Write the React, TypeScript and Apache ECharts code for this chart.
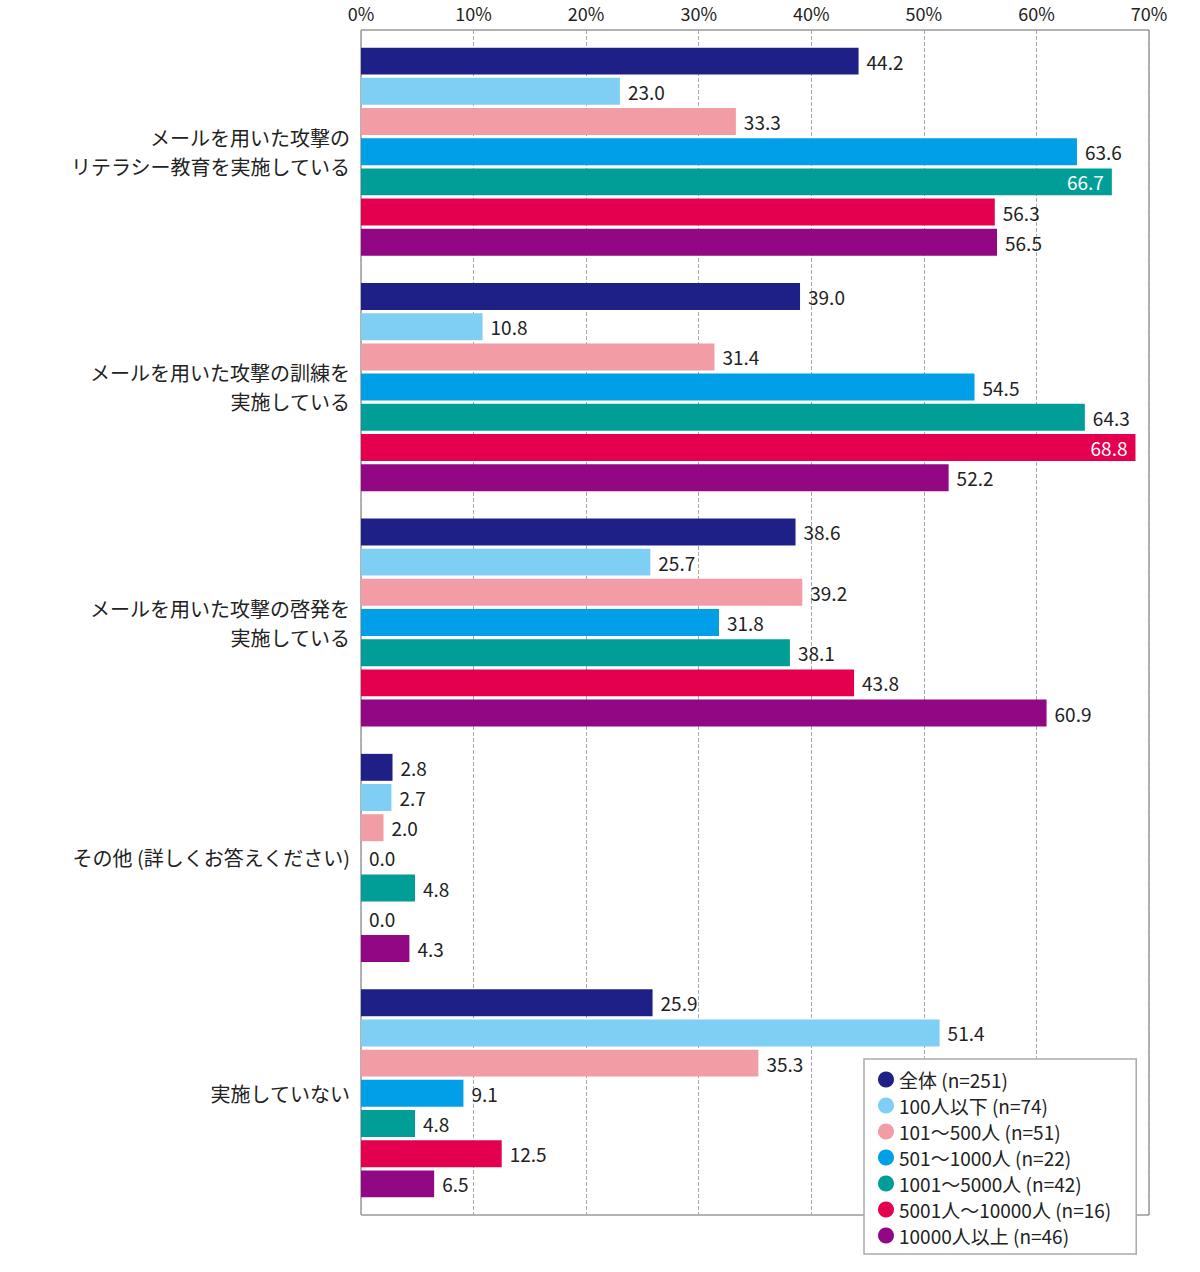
import React, { useEffect, useRef } from "react";
import * as echarts from "echarts";

const categories = [
  "メールを用いた攻撃の\nリテラシー教育を実施している",
  "メールを用いた攻撃の訓練を\n実施している",
  "メールを用いた攻撃の啓発を\n実施している",
  "その他 (詳しくお答えください)",
  "実施していない",
];

const seriesNames = [
  "全体 (n=251)",
  "100人以下 (n=74)",
  "101～500人 (n=51)",
  "501～1000人 (n=22)",
  "1001～5000人 (n=42)",
  "5001人～10000人 (n=16)",
  "10000人以上 (n=46)",
];

const allValues = [44.2, 39.0, 38.6, 2.8, 25.9];
const under100Values = [23.0, 10.8, 25.7, 2.7, 51.4];
const s101to500Values = [33.3, 31.4, 39.2, 2.0, 35.3];
const s501to1000Values = [63.6, 54.5, 31.8, 0.0, 9.1];
const s1001to5000Values = [66.7, 64.3, 38.1, 4.8, 4.8];
const s5001to10000Values = [56.3, 68.8, 43.8, 0.0, 12.5];
const over10000Values = [56.5, 52.2, 60.9, 4.3, 6.5];

const seriesValues = [
  allValues,
  under100Values,
  s101to500Values,
  s501to1000Values,
  s1001to5000Values,
  s5001to10000Values,
  over10000Values,
];

const colors = ["#1E2087", "#7FCEF4", "#F29CA6", "#009FE8", "#009E96", "#E5004F", "#920783"];

const xMin = 0;
const xMax = 70;
const xInterval = 10;

const FONT = '"Noto Sans CJK JP", "Noto Sans", sans-serif';

export default function App() {
  const ref = useRef<HTMLDivElement>(null);
  useEffect(() => {
    document.body.style.margin = "0";
    if (!ref.current) return;
    const chart = echarts.init(ref.current, undefined, { renderer: "svg" });
    const series = seriesValues.map((vals, si) => ({
      name: seriesNames[si],
      type: "bar",
      xAxisIndex: 1,
      yAxisIndex: 1,
      barGap: "12%",
      barCategoryGap: "11.6%",
      itemStyle: { color: colors[si] },
      label: {
        show: true,
        position: "right",
        distance: 8,
        fontSize: 19,
        fontFamily: FONT,
        color: "#222",
        formatter: (p: any) => Number(p.value).toFixed(1),
      },
      data: vals.map((v) =>
        v > 65
          ? {
              value: v,
              label: { position: "insideRight", color: "#fff", distance: 8 },
            }
          : { value: v }
      ),
    }));
    chart.setOption({
      animation: false,
      textStyle: { fontFamily: FONT },
      grid: [
        {
          left: 361,
          right: 51,
          top: 30,
          bottom: 57,
          show: true,
          borderColor: "#666",
          borderWidth: 1,
          backgroundColor: "transparent",
        },
        {
          left: 361,
          right: 51,
          top: 34,
          bottom: 61,
        },
      ],
      legend: {
        orient: "vertical",
        left: 864,
        top: 1059,
        padding: [11, 25, 9, 14],
        backgroundColor: "#fff",
        borderColor: "#aaa",
        borderWidth: 1.5,
        borderRadius: 0,
        itemWidth: 16,
        itemHeight: 16,
        itemGap: 7,
        itemTextGap: 8,
        icon: "circle",
        textStyle: { fontSize: 19, color: "#222", fontFamily: FONT, lineHeight: 19 },
        data: seriesNames,
        z: 10,
      },
      xAxis: [
        {
          type: "value",
          gridIndex: 0,
          position: "top",
          min: xMin,
          max: xMax,
          interval: xInterval,
          axisLine: { show: false },
          axisTick: { show: false },
          axisLabel: {
            formatter: "{value}%",
            fontSize: 18,
            color: "#222",
            fontFamily: FONT,
            margin: 8,
          },
          splitLine: { show: true, lineStyle: { type: "dashed", color: "#aaa", width: 1 } },
        },
        {
          type: "value",
          gridIndex: 1,
          min: xMin,
          max: xMax,
          interval: xInterval,
          show: false,
        },
      ],
      yAxis: [
        {
          type: "value",
          gridIndex: 0,
          show: false,
          splitLine: { show: false },
        },
        {
          type: "category",
          gridIndex: 1,
          inverse: true,
          data: categories,
          axisLine: { show: false },
          axisTick: { show: false },
          axisLabel: {
            fontSize: 20,
            lineHeight: 29,
            color: "#222",
            fontFamily: FONT,
            margin: 11,
            align: "right",
          },
        },
      ],
      series,
    });
    return () => chart.dispose();
  }, []);
  return <div ref={ref} style={{ width: 1200, height: 1272 }} />;
}
